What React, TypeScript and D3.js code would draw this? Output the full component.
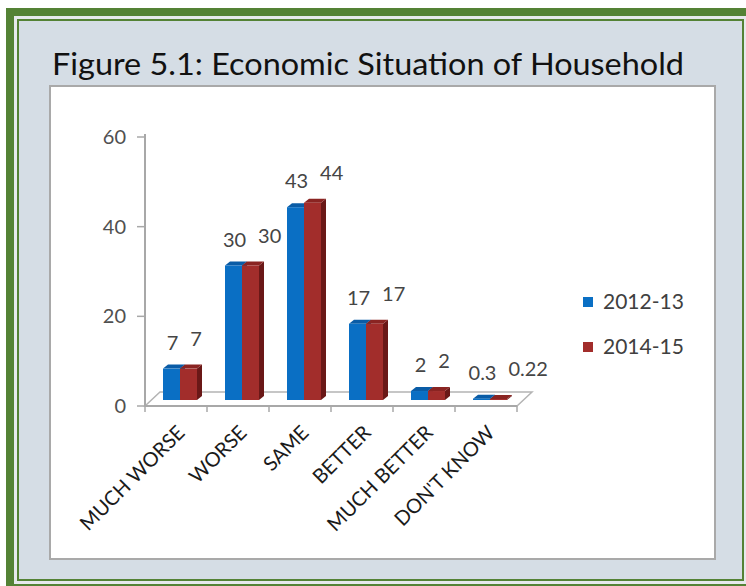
import React from 'react';
import * as d3 from 'd3';

const title = 'Figure 5.1: Economic Situation of Household';
const categories = ['MUCH WORSE', 'WORSE', 'SAME', 'BETTER', 'MUCH BETTER', "DON'T KNOW"];
const seriesNames = ['2012-13', '2014-15'];
const values2012 = [7, 30, 43, 17, 2, 0.3];
const values2014 = [7, 30, 44, 17, 2, 0.22];
const yTicks = [0, 20, 40, 60];

const W = 746;
const H = 586;
const FONT = "Lato, 'Open Sans', sans-serif";
const BLUE = '#0a6fc4';
const BLUE_TOP = '#0a5ca6';
const BLUE_SIDE = '#064f8e';
const RED = '#a22d2b';
const RED_TOP = '#8a2422';
const RED_SIDE = '#6a1817';
const GREEN = '#548235';

let ctx: CanvasRenderingContext2D | null = null;
function textWidth(s: string, size: number): number {
  if (!ctx) {
    const c = document.createElement('canvas');
    ctx = c.getContext('2d');
  }
  if (!ctx) return s.length * size * 0.55;
  ctx.font = `${size}px ${FONT}`;
  return ctx.measureText(s).width;
}

export default function App() {
  const x = d3.scaleBand<string>().domain(categories).range([145, 517]).padding(0);
  const y = d3.scaleLinear().domain([0, 60]).range([406, 137]);
  const floorD = { dx: 15, dy: -14 };
  const barOff = { dx: 6, dy: -6 };
  const yb = (v: number) => y(v) + barOff.dy;
  const barW = 17;
  const sd = { dx: 5, dy: -4 };
  const labelSize = 20;

  const x0 = x(categories[0])!;
  const x1 = x(categories[categories.length - 1])! + x.bandwidth();
  const y0 = y(0);

  const floorPts = [
    [x0, y0],
    [x1, y0],
    [x1 + floorD.dx, y0 + floorD.dy],
    [x0 + floorD.dx, y0 + floorD.dy],
  ];

  const bar = (left: number, v: number, front: string, top: string, side: string, key: string) => {
    const t = yb(v);
    const b = yb(0);
    const r = left + barW;
    return (
      <g key={key}>
        <path d={`M${r},${b} L${r + sd.dx},${b + sd.dy} L${r + sd.dx},${t + sd.dy} L${r},${t} Z`} fill={side} />
        <path d={`M${left},${t} L${left + sd.dx},${t + sd.dy} L${r + sd.dx},${t + sd.dy} L${r},${t} Z`} fill={top} />
        <rect x={left} y={t} width={barW} height={b - t} fill={front} />
      </g>
    );
  };

  return (
    <svg width={W} height={H} style={{ position: 'absolute', left: 0, top: 0 }} xmlns="http://www.w3.org/2000/svg">
      <rect x={0} y={0} width={W} height={H} fill="#ffffff" />
      {/* frame */}
      <rect x={6} y={8} width={W + 20} height={H + 20} fill={GREEN} />
      <rect x={14} y={16} width={W + 20} height={568} fill="#e6e9ec" />
      <rect x={17} y={19} width={727} height={562} fill={GREEN} />
      <rect x={19} y={21} width={723} height={558} fill="#d5dde5" />

      {/* title */}
      <text x={52} y={75} fontFamily={FONT} fontSize={31} fill="#111" textLength={632} lengthAdjust="spacingAndGlyphs">
        {title}
      </text>

      {/* panel */}
      <rect x={50} y={86} width={665} height={473} fill="#ffffff" stroke="#a9a9a9" strokeWidth={2} />

      {/* floor */}
      <polygon points={floorPts.map((p) => p.join(',')).join(' ')} fill="#ffffff" stroke="#b4b4b4" strokeWidth={1.5} />
      <line x1={x0} x2={x1} y1={y0} y2={y0} stroke="#a8a8a8" strokeWidth={2} />
      {categories.map((c, i) => (
        <line key={'xt' + i} x1={x(c)!} x2={x(c)!} y1={y0} y2={y0 + 6} stroke="#a8a8a8" strokeWidth={1.5} />
      ))}
      <line x1={x1} x2={x1} y1={y0} y2={y0 + 6} stroke="#a8a8a8" strokeWidth={1.5} />

      {/* y axis */}
      <line x1={x0} x2={x0} y1={y(60) - 3} y2={y0} stroke="#a8a8a8" strokeWidth={2} />
      {yTicks.map((t) => (
        <g key={'yt' + t}>
          <line x1={x0 - 8} x2={x0} y1={y(t)} y2={y(t)} stroke="#a8a8a8" strokeWidth={1.5} />
          <text x={126} y={y(t)} dy="0.35em" textAnchor="end" fontFamily={FONT} fontSize={20} fill="#505050">
            {t}
          </text>
        </g>
      ))}

      {/* bars */}
      {categories.map((c, i) => {
        const cx = x(c)! + x.bandwidth() / 2;
        const blueLeft = cx - barW + 4;
        const redLeft = cx + 4;
        return (
          <g key={'bar' + i}>
            {bar(blueLeft, values2012[i], BLUE, BLUE_TOP, BLUE_SIDE, 'b')}
            {bar(redLeft, values2014[i], RED, RED_TOP, RED_SIDE, 'r')}
          </g>
        );
      })}

      {/* data labels */}
      {categories.map((c, i) => {
        const cx = x(c)! + x.bandwidth() / 2;
        const blueCx = cx - barW + 4 + barW / 2 + 1;
        const redCx = cx + 4 + barW / 2 + 1;
        const bl = String(values2012[i]);
        const rl = String(values2014[i]);
        const bw = textWidth(bl, labelSize);
        const rw = textWidth(rl, labelSize);
        const redX = Math.max(redCx, blueCx + bw / 2 + 12 + rw / 2);
        return (
          <g key={'lab' + i} fontFamily={FONT} fontSize={labelSize} fill="#454545" textAnchor="middle">
            <text x={blueCx} y={yb(values2012[i]) - 26} dy="0.35em">{bl}</text>
            <text x={redX} y={yb(values2014[i]) - 30} dy="0.35em">{rl}</text>
          </g>
        );
      })}

      {/* x labels */}
      {categories.map((c, i) => {
        const cx = x(c)! + x.bandwidth() / 2;
        return (
          <text
            key={'xl' + i}
            transform={`translate(${cx + 10},${434}) rotate(-45)`}
            textAnchor="end"
            fontFamily={FONT}
            fontSize={20}
            fill="#1a1a1a"
          >
            {c}
          </text>
        );
      })}

      {/* legend */}
      {seriesNames.map((s, i) => (
        <g key={'lg' + i} transform={`translate(583,${302 + i * 45})`}>
          <rect x={0} y={-5} width={10} height={10} fill={i === 0 ? BLUE : RED} />
          <text x={20} y={0} dy="0.35em" fontFamily={FONT} fontSize={21} fill="#404040">
            {s}
          </text>
        </g>
      ))}
    </svg>
  );
}
